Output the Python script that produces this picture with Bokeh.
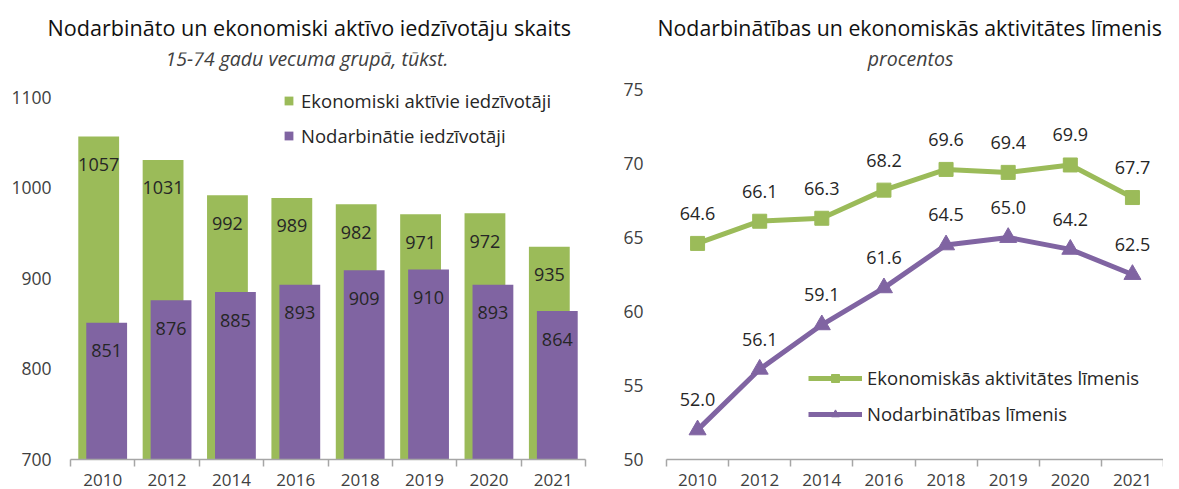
import numpy as np
from bokeh.plotting import figure
from bokeh.models import (ColumnDataSource, FixedTicker, Range1d, Legend, LegendItem)
from bokeh.layouts import row
from bokeh.embed import file_html
from bokeh.resources import INLINE
from bokeh.core.properties import value

# ---- data ----
years = ["2010", "2012", "2014", "2016", "2018", "2019", "2020", "2021"]
active = [1057, 1031, 992, 989, 982, 971, 972, 935]
employed = [851, 876, 885, 893, 909, 910, 893, 864]
activity_rate = [64.6, 66.1, 66.3, 68.2, 69.6, 69.4, 69.9, 67.7]
employment_rate = [52.0, 56.1, 59.1, 61.6, 64.5, 65.0, 64.2, 62.5]

left_yticks = [700, 800, 900, 1000, 1100]
right_yticks = [50, 55, 60, 65, 70, 75]

left_title = "Nodarbināto un ekonomiski aktīvo iedzīvotāju skaits"
left_sub = "15-74 gadu vecuma grupā, tūkst."
right_title = "Nodarbinātības un ekonomiskās aktivitātes līmenis"
right_sub = "procentos"

GREEN = "#9BBB59"
PURPLE = "#8064A2"
TXT = "#262626"
AX = "#A6A6A6"
FONT = "Open Sans"

W1, W2, H = 598, 565, 489

n = len(years)
centers = np.arange(n) + 0.5
bounds = list(np.arange(n + 1).astype(float))
overrides = {float(c): y for c, y in zip(centers, years)}


def style(p, yticks, main, offset, ystand, tsize):
    p.title.text = main
    p.title.align = "left"
    p.title.offset = offset
    p.title.standoff = 21
    p.title.text_font = FONT
    p.title.text_font_size = tsize
    p.title.text_font_style = "normal"
    p.title.text_color = "#111111"
    p.xaxis.ticker = FixedTicker(ticks=list(centers), minor_ticks=bounds)
    p.xaxis.major_label_overrides = overrides
    p.xaxis.major_tick_out = 0
    p.xaxis.major_tick_in = 0
    p.xaxis.minor_tick_out = 7
    p.xaxis.minor_tick_in = 0
    p.xaxis.minor_tick_line_color = AX
    p.xaxis.minor_tick_line_width = 1.5
    p.xaxis.axis_line_color = AX
    p.xaxis.axis_line_width = 1.5
    p.xaxis.major_label_text_font = FONT
    p.xaxis.major_label_text_font_size = "17px"
    p.xaxis.major_label_text_color = "#404040"
    p.xaxis.major_label_standoff = 7
    p.yaxis.ticker = FixedTicker(ticks=yticks)
    p.yaxis.axis_line_color = None
    p.yaxis.major_tick_line_color = None
    p.yaxis.minor_tick_line_color = None
    p.yaxis.major_label_text_font = FONT
    p.yaxis.major_label_text_font_size = "17.5px"
    p.yaxis.major_label_text_color = "#404040"
    p.yaxis.major_label_standoff = ystand
    p.xgrid.visible = False
    p.ygrid.visible = False
    p.outline_line_color = None


def subtitle(p, x, y, text):
    p.text(x=[x], y=[y], text=[text], text_align="center", text_baseline="middle",
           text_font=value(FONT), text_font_size="19.5px", text_font_style="italic",
           text_color="#404040")


# ---- left: bars ----
p1 = figure(width=W1, height=H, output_backend="svg", toolbar_location=None,
            x_range=Range1d(0, n), y_range=Range1d(700, 1149.7),
            min_border_left=70, min_border_right=13, min_border_top=30, min_border_bottom=30)
style(p1, left_yticks, left_title, -23, 13, "21.6px")

bar_w = 0.634
shift = 0.062
src1 = ColumnDataSource(dict(xg=centers - shift, xp=centers + shift,
                             active=active, employed=employed,
                             lab_a=[str(v) for v in active], lab_e=[str(v) for v in employed]))
rg = p1.vbar(x="xg", top="active", bottom=700, width=bar_w, fill_color=GREEN,
             line_color=None, source=src1)
rp = p1.vbar(x="xp", top="employed", bottom=700, width=bar_w, fill_color=PURPLE,
             line_color=None, source=src1)
p1.text(x="xg", y="active", text="lab_a", source=src1, y_offset=28,
        text_align="center", text_baseline="middle", text_font=value(FONT),
        text_font_size="18px", text_color=TXT)
p1.text(x="xp", y="employed", text="lab_e", source=src1, y_offset=28,
        text_align="center", text_baseline="middle", text_font=value(FONT),
        text_font_size="18px", text_color=TXT)
subtitle(p1, 3.674, 1143.1, left_sub)

leg1 = Legend(items=[LegendItem(label="Ekonomiski aktīvie iedzīvotāji", renderers=[rg]),
                     LegendItem(label="Nodarbinātie iedzīvotāji", renderers=[rp])],
              location=(213, 311), glyph_width=11, glyph_height=11, label_standoff=7,
              spacing=10, padding=0, margin=0, border_line_color=None,
              background_fill_alpha=0, label_text_font=FONT, label_text_font_size="18.5px",
              label_text_color=TXT, label_height=22)
p1.add_layout(leg1)

# ---- right: lines ----
p2 = figure(width=W2, height=H, output_backend="svg", toolbar_location=None,
            x_range=Range1d(0, n), y_range=Range1d(50, 77.5),
            min_border_left=68, min_border_right=0, min_border_top=30, min_border_bottom=30)
style(p2, right_yticks, right_title, -9, 17, "21.3px")

src2 = ColumnDataSource(dict(x=centers, act=activity_rate, emp=employment_rate,
                             lab_a=[f"{v:.1f}" for v in activity_rate],
                             lab_e=[f"{v:.1f}" for v in employment_rate]))
la = p2.line(x="x", y="act", source=src2, line_color=GREEN, line_width=5)
ma = p2.scatter(x="x", y="act", source=src2, marker="square", size=14,
                fill_color=GREEN, line_color=GREEN)
le = p2.line(x="x", y="emp", source=src2, line_color=PURPLE, line_width=5)
me = p2.scatter(x="x", y="emp", source=src2, marker="triangle", size=17,
                fill_color=PURPLE, line_color=PURPLE)
for col, lab in (("act", "lab_a"), ("emp", "lab_e")):
    p2.text(x="x", y=col, text=lab, source=src2, y_offset=-30,
            text_align="center", text_baseline="middle", text_font=value(FONT),
            text_font_size="18px", text_color=TXT)
subtitle(p2, 3.928, 77.09, right_sub)

leg2 = Legend(items=[LegendItem(label="Ekonomiskās aktivitātes līmenis", renderers=[la, ma]),
                     LegendItem(label="Nodarbinātības līmenis", renderers=[le, me])],
              location=(142, 33), glyph_width=54, glyph_height=20, label_standoff=5,
              spacing=11, padding=0, margin=0, border_line_color=None,
              background_fill_alpha=0, label_text_font=FONT, label_text_font_size="18.5px",
              label_text_color=TXT, label_height=22)
p2.add_layout(leg2)

layout = row(p1, p2)
open("out.html", "w").write(file_html(layout, INLINE))
